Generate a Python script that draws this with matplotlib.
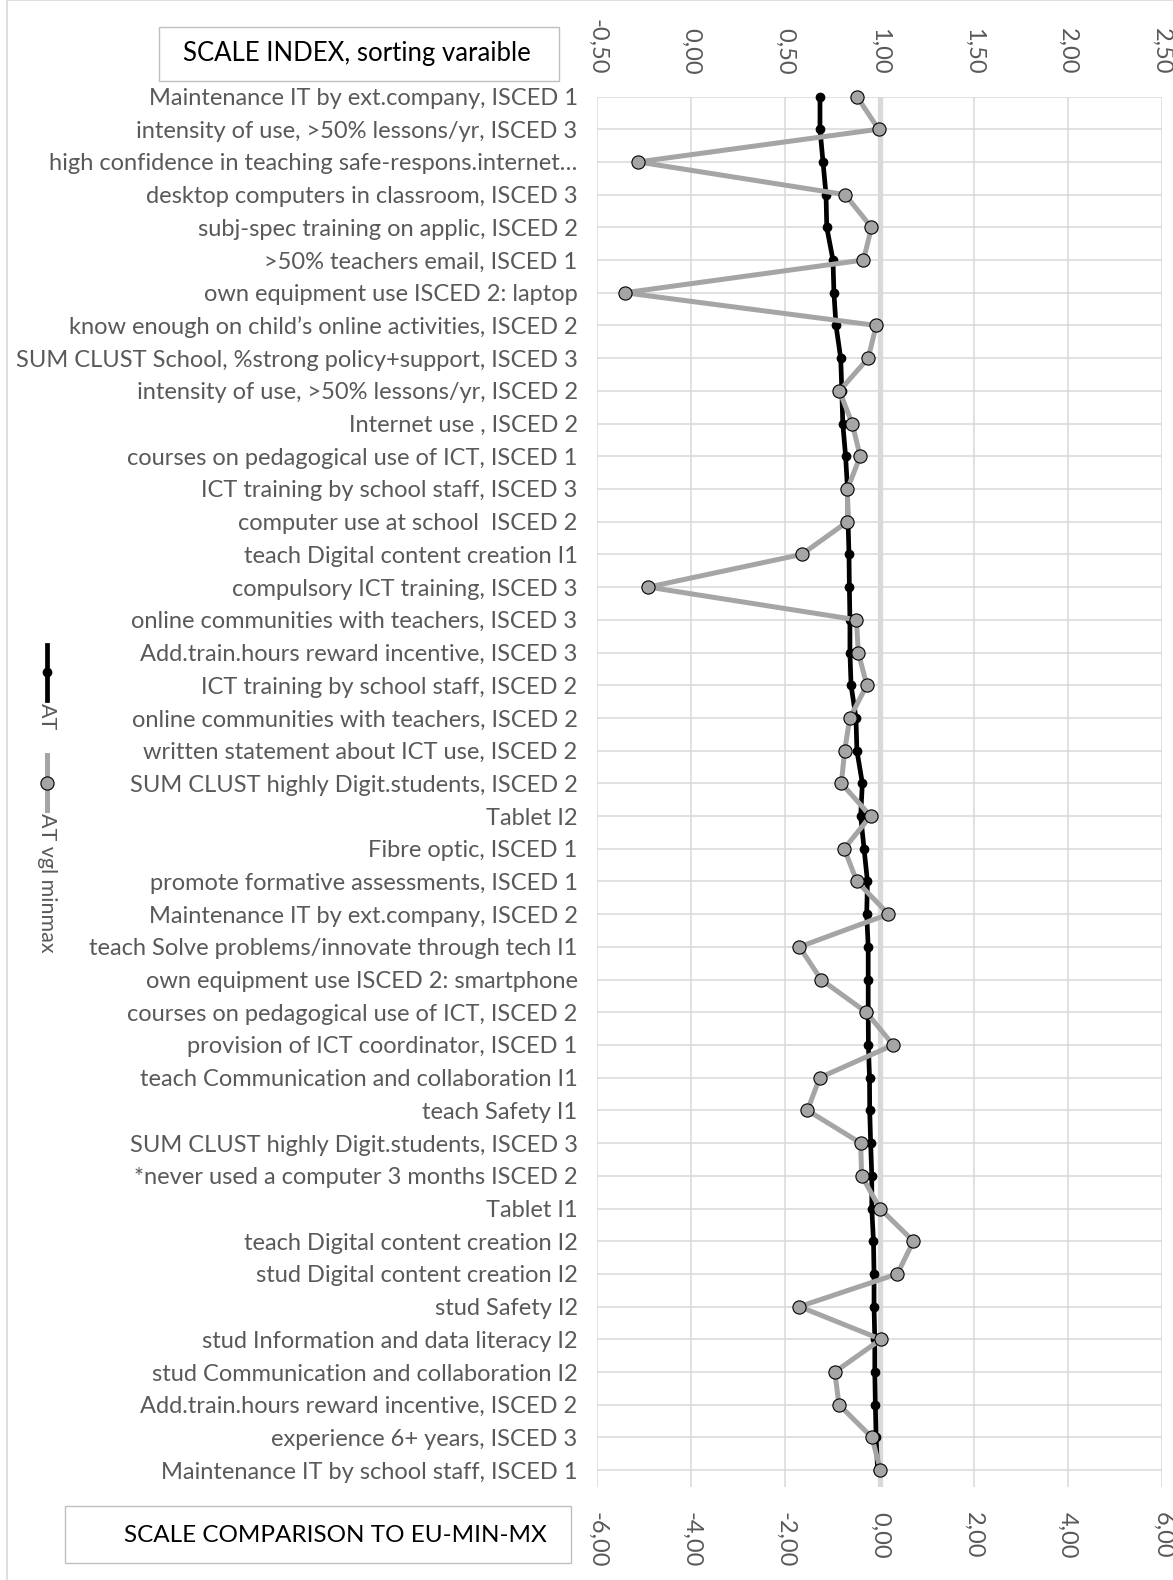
import numpy as np
import matplotlib
matplotlib.use("Agg")
import matplotlib.pyplot as plt
from matplotlib.lines import Line2D
from matplotlib.patches import Rectangle

plt.rcParams["font.family"] = ["Lato", "DejaVu Sans"]

categories = [
    "Maintenance IT by ext.company, ISCED 1",
    "intensity of use, >50% lessons/yr, ISCED 3",
    "high confidence in teaching safe-respons.internet…",
    "desktop computers in classroom, ISCED 3",
    "subj-spec training on applic, ISCED 2",
    ">50% teachers email, ISCED 1",
    "own equipment use ISCED 2: laptop",
    "know enough on child’s online activities, ISCED 2",
    "SUM CLUST School, %strong policy+support, ISCED 3",
    "intensity of use, >50% lessons/yr, ISCED 2",
    "Internet use , ISCED 2",
    "courses on pedagogical use of ICT, ISCED 1",
    "ICT training by school staff, ISCED 3",
    "computer use at school  ISCED 2",
    "teach Digital content creation I1",
    "compulsory ICT training, ISCED 3",
    "online communities with teachers, ISCED 3",
    "Add.train.hours reward incentive, ISCED 3",
    "ICT training by school staff, ISCED 2",
    "online communities with teachers, ISCED 2",
    "written statement about ICT use, ISCED 2",
    "SUM CLUST highly Digit.students, ISCED 2",
    "Tablet I2",
    "Fibre optic, ISCED 1",
    "promote formative assessments, ISCED 1",
    "Maintenance IT by ext.company, ISCED 2",
    "teach Solve problems/innovate through tech I1",
    "own equipment use ISCED 2: smartphone",
    "courses on pedagogical use of ICT, ISCED 2",
    "provision of ICT coordinator, ISCED 1",
    "teach Communication and collaboration I1",
    "teach Safety I1",
    "SUM CLUST highly Digit.students, ISCED 3",
    "*never used a computer 3 months ISCED 2",
    "Tablet I1",
    "teach Digital content creation I2",
    "stud Digital content creation I2",
    "stud Safety I2",
    "stud Information and data literacy I2",
    "stud Communication and collaboration I2",
    "Add.train.hours reward incentive, ISCED 2",
    "experience 6+ years, ISCED 3",
    "Maintenance IT by school staff, ISCED 1",
]

# scale index (top axis)
at_index = [
    0.684, 0.684, 0.700, 0.716, 0.720, 0.753, 0.758, 0.769, 0.794, 0.800,
    0.805, 0.820, 0.830, 0.833, 0.838, 0.840, 0.843, 0.843, 0.849, 0.875,
    0.880, 0.909, 0.900, 0.918, 0.936, 0.932, 0.940, 0.940, 0.940, 0.941,
    0.947, 0.948, 0.953, 0.959, 0.959, 0.968, 0.971, 0.971, 0.975, 0.975,
    0.978, 0.982, 0.990,
]

# comparison to EU min-max (bottom axis)
at_vgl_minmax = [
    -0.48, -0.02, -5.13, -0.73, -0.17, -0.34, -5.41, -0.07, -0.24, -0.85,
    -0.58, -0.41, -0.68, -0.68, -1.65, -4.91, -0.49, -0.45, -0.27, -0.63,
    -0.74, -0.81, -0.19, -0.75, -0.48, 0.19, -1.70, -1.24, -0.28, 0.29,
    -1.27, -1.53, -0.40, -0.38, 0.01, 0.72, 0.38, -1.70, 0.03, -0.95,
    -0.86, -0.16, 0.02,
]

top_ticks = [-0.5, 0.0, 0.5, 1.0, 1.5, 2.0, 2.5]
bottom_ticks = [-6, -4, -2, 0, 2, 4, 6]

W, H = 1173, 1580
TXT = "#595959"
GRID = "#d9d9d9"
GREY = "#a5a5a5"
FS = 17


def fx(px):
    return px / W


def fy(py):
    return 1 - py / H


def dec(v):
    return f"{v:.2f}".replace(".", ",")


fig = plt.figure(figsize=(W / 100, H / 100), dpi=100)

# outer chart frame
fig.add_artist(Rectangle((fx(7), fy(1600)), fx(1200), 1600 / H + 0.0,
                         transform=fig.transFigure, fill=False,
                         ec=GRID, lw=1.2))

left, right, top, bottom = 597, 1162, 96.5, 1486.5
ax = fig.add_axes([fx(left), fy(bottom), fx(right - left), (bottom - top) / H])
y = np.arange(len(categories))

ax2 = ax.twiny()

ax.set_xlim(-0.5, 2.5)
ax.set_ylim(len(categories) - 0.5, 0)
ax.set_xticks(top_ticks)
ax.set_xticklabels([dec(t) for t in top_ticks])
ax.xaxis.tick_top()
ax.set_yticks(y)
ax.set_yticklabels(categories)
ax.tick_params(axis="x", length=0, pad=16, labelsize=FS, labelcolor=TXT,
               labelrotation=-90)
ax.tick_params(axis="y", length=0, pad=14, labelsize=FS, labelcolor=TXT)
ax.grid(True, color=GRID, lw=1.1)
ax.set_axisbelow(True)
ax.axvline(1.0, color=GRID, lw=3.8, zorder=1)
for s in ax.spines.values():
    s.set_visible(False)

ax.plot(at_index, y, color="black", lw=3.4, marker="o", ms=6,
        zorder=3, clip_on=False)

ax2.set_xlim(-6, 6)
ax2.set_xticks(bottom_ticks)
ax2.set_xticklabels([dec(t) for t in bottom_ticks])
ax2.xaxis.tick_bottom()
ax2.tick_params(axis="x", length=0, pad=18, labelsize=FS, labelcolor=TXT,
                labelrotation=-90)
for s in ax2.spines.values():
    s.set_visible(False)
ax2.plot(at_vgl_minmax, y, color=GREY, lw=3.6, marker="o", ms=9.5,
         mfc=GREY, mec="black", mew=0.8, zorder=4, clip_on=False)

# rotated legend on the left
lx = fx(47)
fig.add_artist(Line2D([lx, lx], [fy(645), fy(700)], color="black", lw=3.4,
                      transform=fig.transFigure))
fig.add_artist(Line2D([lx], [fy(672)], color="black", marker="o", ms=6,
                      transform=fig.transFigure))
fig.text(lx, fy(703), "AT", rotation=-90, ha="center", va="top",
         fontsize=15.5, color=TXT)
fig.add_artist(Line2D([lx, lx], [fy(755), fy(810)], color=GREY, lw=3.6,
                      transform=fig.transFigure))
fig.add_artist(Line2D([lx], [fy(783)], color=GREY, marker="o", ms=9.5,
                      mfc=GREY, mec="black", mew=0.8,
                      transform=fig.transFigure))
fig.text(lx, fy(813), "AT vgl minmax", rotation=-90, ha="center", va="top",
         fontsize=15.5, color=TXT)

# axis title boxes: (box corners, text centre, label, size)
boxes = [
    ((159, 27, 559, 81), (357, 54), "SCALE INDEX, sorting varaible", 18.5),
    ((65, 1506, 571, 1563), (335, 1535), "SCALE COMPARISON TO EU-MIN-MX", 17.5),
]
for (x0, y0, x1, y1), (tx, ty), label, size in boxes:
    fig.add_artist(Rectangle((fx(x0), fy(y1)), fx(x1 - x0), (y1 - y0) / H,
                             transform=fig.transFigure, fill=False,
                             ec="#bfbfbf", lw=1.0))
    fig.text(fx(tx), fy(ty), label, ha="center", va="center",
             fontsize=size, color="black")

fig.savefig("out.png", dpi=100)
